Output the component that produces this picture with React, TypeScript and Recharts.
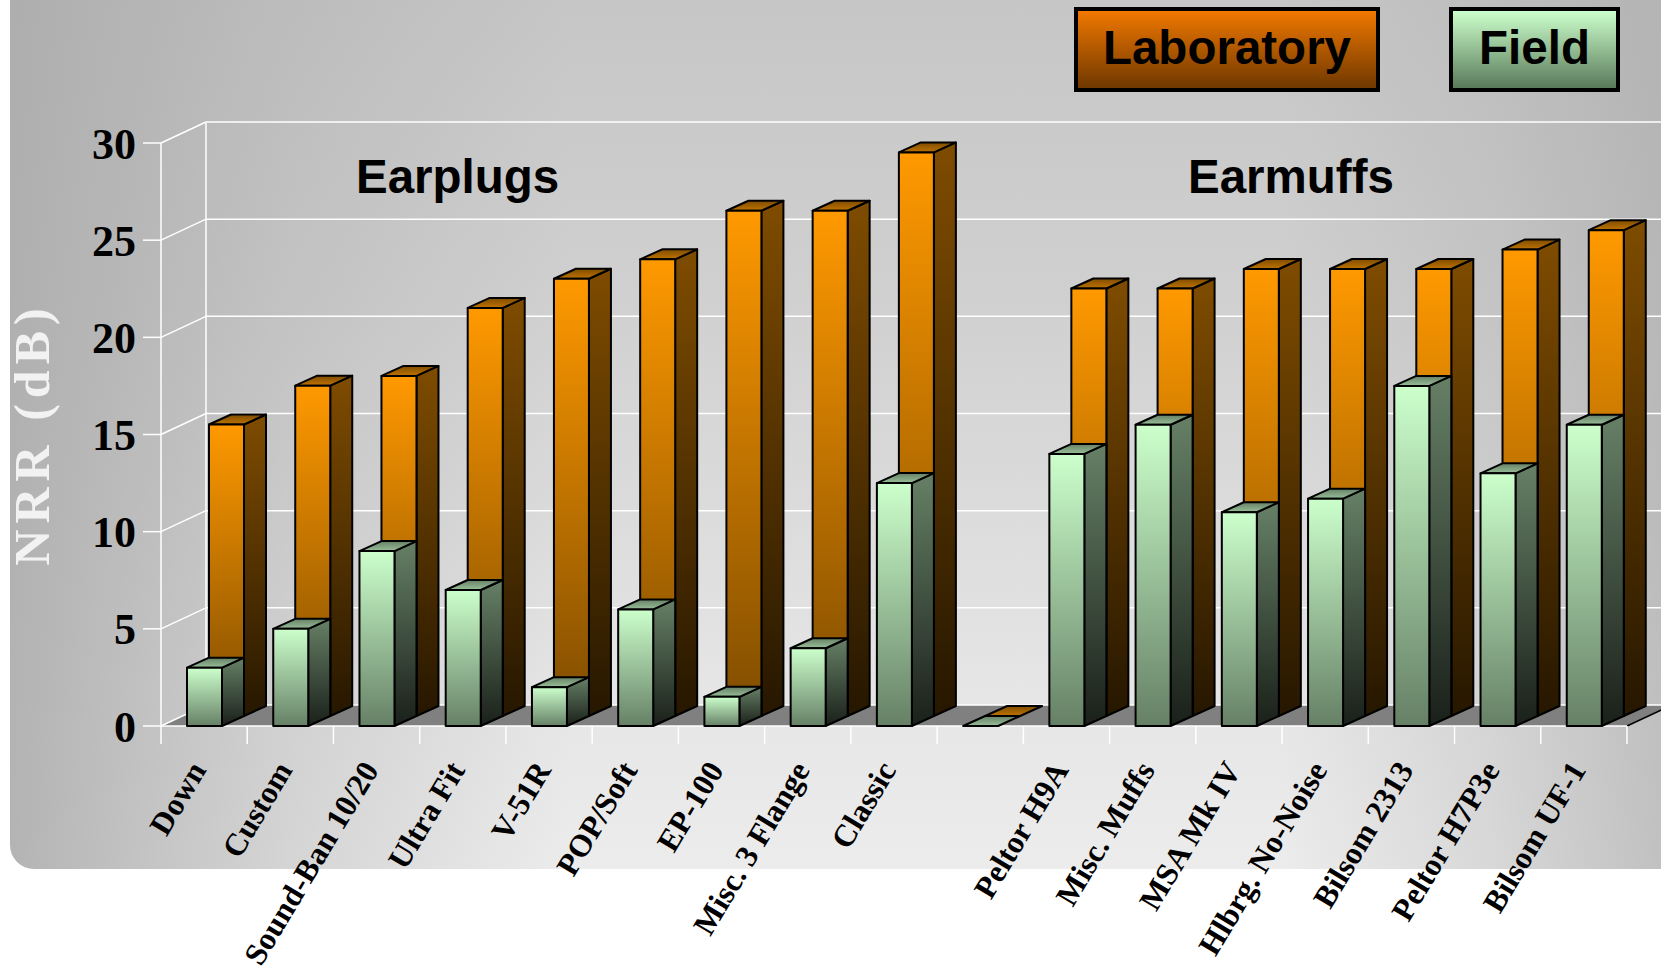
import { BarChart, Bar, XAxis, YAxis, CartesianGrid, Legend } from 'recharts';

const products = [
  'Down', 'Custom', 'Sound-Ban 10/20', 'Ultra Fit', 'V-51R', 'POP/Soft', 'EP-100', 'Misc. 3 Flange', 'Classic',
  ' ',
  'Peltor H9A', 'Misc. Muffs', 'MSA Mk IV', 'Hlbrg. No-Noise', 'Bilsom 2313', 'Peltor H7P3e', 'Bilsom UF-1',
];
const laboratory = [15, 17, 17.5, 21, 22.5, 23.5, 26, 26, 29, 0, 22, 22, 23, 23, 23, 24, 25];
const field = [3, 5, 9, 7, 2, 6, 1.5, 4, 12.5, 0, 14, 15.5, 11, 11.7, 17.5, 13, 15.5];
const yTicks = [0, 5, 10, 15, 20, 25, 30];

const data = products.map((name, i) => ({ name, laboratory: laboratory[i], field: field[i] }));

const DEPTH_X = 45;
const DEPTH_Y = 21;
const ROW_X = 22;
const ROW_Y = 10;
const PLOT_RIGHT = 1627;

function Bar3D({ x, y, width, height, fillId, row }: any) {
  const left = x + row * ROW_X;
  const top = y - row * ROW_Y;
  const right = left + width;
  const bottom = top + height;
  const common = { stroke: '#000', strokeWidth: 2, strokeLinejoin: 'round' as const };
  return (
    <g>
      {height > 0 && (
        <polygon
          points={`${right},${top} ${right + ROW_X},${top - ROW_Y} ${right + ROW_X},${bottom - ROW_Y} ${right},${bottom}`}
          fill={`url(#${fillId}Side)`}
          {...common}
        />
      )}
      <polygon
        points={`${left},${top} ${left + ROW_X},${top - ROW_Y} ${right + ROW_X},${top - ROW_Y} ${right},${top}`}
        fill={`url(#${fillId}Top)`}
        {...common}
      />
      {height > 0 && <rect x={left} y={top} width={width} height={height} fill={`url(#${fillId}Front)`} {...common} />}
    </g>
  );
}

function wallLine(props: any) {
  const { x1, y1, key } = props;
  const isFloor = y1 > 700;
  const bx = x1 + DEPTH_X;
  const by = y1 - DEPTH_Y;
  return (
    <g key={key}>
      {isFloor && (
        <polygon
          points={`${x1},${y1} ${bx},${by} ${PLOT_RIGHT + DEPTH_X},${by} ${PLOT_RIGHT},${y1}`}
          fill="#808080"
        />
      )}
      {isFloor && <line x1={PLOT_RIGHT} y1={y1} x2={PLOT_RIGHT + DEPTH_X} y2={by} stroke="#000" strokeWidth={1.5} />}
      <line x1={x1} y1={y1} x2={bx} y2={by} stroke="#fff" strokeWidth={1.5} />
      <line x1={bx} y1={by} x2={1661} y2={by} stroke="#fff" strokeWidth={1.5} />
      {isFloor && <line x1={bx} y1={by} x2={bx} y2={by - 582} stroke="#fff" strokeWidth={1.5} />}
      {isFloor && <line x1={x1} y1={y1} x2={PLOT_RIGHT} y2={y1} stroke="#fff" strokeWidth={1.5} />}
    </g>
  );
}

function CategoryTick({ x, y, payload, index, visibleTicksCount }: any) {
  const half = payload.offset;
  const last = index === visibleTicksCount - 1;
  const tx = x + 3;
  const ty = y + 36;
  return (
    <g>
      <line x1={x - half} y1={y - 8} x2={x - half} y2={y + 10} stroke="#fff" strokeWidth={1.5} />
      {last && <line x1={x + half} y1={y - 8} x2={x + half} y2={y + 10} stroke="#fff" strokeWidth={1.5} />}
      <text
        x={tx}
        y={ty}
        textAnchor="end"
        transform={`rotate(-59 ${tx} ${ty})`}
        fontFamily="'Liberation Serif', serif"
        fontWeight="bold"
        fontSize={31.5}
        fill="#000"
      >
        {payload.value}
      </text>
    </g>
  );
}

function LegendBoxes({ payload }: any) {
  const boxes = [
    { left: 1074, width: 306, bg: 'linear-gradient(#f07800, #703800)' },
    { left: 1449, width: 171, bg: 'linear-gradient(#ccffcc, #5a7a5a)' },
  ];
  return (
    <div style={{ position: 'relative', width: 0, height: 0 }}>
      {(payload || []).map((entry: any, i: number) => (
        <div
          key={entry.value}
          style={{
            position: 'absolute',
            left: boxes[i].left,
            top: 7,
            width: boxes[i].width,
            height: 85,
            boxSizing: 'border-box',
            border: '4px solid #000',
            background: boxes[i].bg,
            color: '#000',
            fontFamily: "'Liberation Sans', sans-serif",
            fontWeight: 'bold',
            fontSize: 47.5,
            lineHeight: '74px',
            textAlign: 'center',
            whiteSpace: 'nowrap',
          }}
        >
          {entry.value}
        </div>
      ))}
    </div>
  );
}

const panelBackground = [
  'linear-gradient(to right, rgba(170,170,170,0.85) 0px, rgba(170,170,170,0.35) 280px, rgba(170,170,170,0) 560px)',
  'linear-gradient(to left, rgba(170,170,170,0.65) 0px, rgba(170,170,170,0.3) 170px, rgba(170,170,170,0) 380px)',
  'linear-gradient(to bottom, #c6c6c6 0px, #d0d0d0 300px, #e6e6e6 700px, #ececec 869px)',
].join(', ');

export default function App() {
  return (
    <div style={{ position: 'absolute', left: 0, top: 0, width: 1661, height: 969, overflow: 'hidden', background: '#fff' }}>
      <div
        style={{
          position: 'absolute',
          left: 10,
          top: 0,
          width: 1651,
          height: 869,
          borderBottomLeftRadius: 24,
          background: panelBackground,
        }}
      />
      <BarChart
        width={1661}
        height={969}
        data={data}
        barSize={35}
        barGap={-35}
        margin={{ top: 143, right: 34, bottom: 0, left: 0 }}
        style={{ position: 'absolute', left: 0, top: 0 }}
      >
        <defs>
          <linearGradient id="labFront" x1="0" y1="0" x2="0" y2="1">
            <stop offset="0%" stopColor="#ff9900" />
            <stop offset="100%" stopColor="#7f4c00" />
          </linearGradient>
          <linearGradient id="labSide" x1="0" y1="0" x2="0" y2="1">
            <stop offset="0%" stopColor="#7f4c00" />
            <stop offset="100%" stopColor="#261700" />
          </linearGradient>
          <linearGradient id="labTop" x1="0" y1="0" x2="0" y2="1">
            <stop offset="0%" stopColor="#7f4c00" />
            <stop offset="100%" stopColor="#bf7300" />
          </linearGradient>
          <linearGradient id="fieldFront" x1="0" y1="0" x2="0" y2="1">
            <stop offset="0%" stopColor="#ccffcc" />
            <stop offset="100%" stopColor="#668066" />
          </linearGradient>
          <linearGradient id="fieldSide" x1="0" y1="0" x2="0" y2="1">
            <stop offset="0%" stopColor="#668066" />
            <stop offset="100%" stopColor="#1a201a" />
          </linearGradient>
          <linearGradient id="fieldTop" x1="0" y1="0" x2="0" y2="1">
            <stop offset="0%" stopColor="#668066" />
            <stop offset="100%" stopColor="#99bf99" />
          </linearGradient>
        </defs>
        <CartesianGrid horizontal={wallLine} vertical={false} />
        <XAxis
          dataKey="name"
          interval={0}
          height={243}
          axisLine={false}
          tickLine={false}
          tick={<CategoryTick />}
        />
        <YAxis
          width={161}
          domain={[0, 30]}
          ticks={yTicks}
          tickSize={18}
          tickMargin={7}
          axisLine={{ stroke: '#fff', strokeWidth: 1.5 }}
          tickLine={{ stroke: '#fff', strokeWidth: 1.5 }}
          tick={{ fontFamily: "'Liberation Serif', serif", fontWeight: 'bold', fontSize: 44, fill: '#000' }}
        />
        <Legend
          itemSorter={null}
          content={<LegendBoxes />}
          wrapperStyle={{ position: 'absolute', left: 0, top: 0, width: 0, height: 0 }}
        />
        <Bar dataKey="laboratory" name="Laboratory" isAnimationActive={false} shape={(p: any) => <Bar3D {...p} fillId="lab" row={1} />} />
        <Bar dataKey="field" name="Field" isAnimationActive={false} shape={(p: any) => <Bar3D {...p} fillId="field" row={0} />} />
        <text
          x={49}
          y={434}
          textAnchor="middle"
          transform="rotate(-90 49 434)"
          fontFamily="'Liberation Serif', serif"
          fontWeight="bold"
          fontSize={50}
          letterSpacing={6}
          fill="#f2f2f2"
        >
          NRR (dB)
        </text>
        <text x={356} y={193} fontFamily="'Liberation Sans', sans-serif" fontWeight="bold" fontSize={47.5} fill="#000">Earplugs</text>
        <text x={1188} y={193} fontFamily="'Liberation Sans', sans-serif" fontWeight="bold" fontSize={47.5} fill="#000">Earmuffs</text>
      </BarChart>
    </div>
  );
}
